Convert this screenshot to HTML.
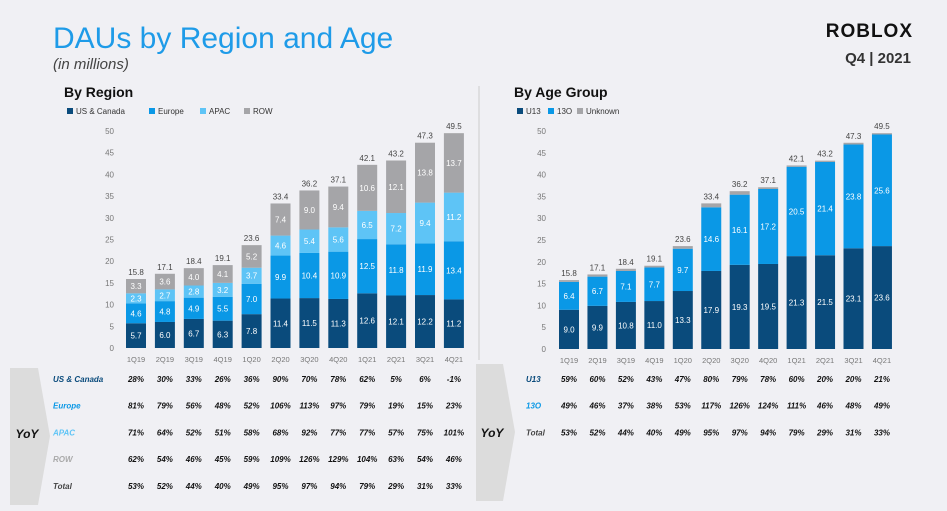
<!DOCTYPE html>
<html><head><meta charset="utf-8"><style>
body{margin:0;background:#f0f0f4;font-family:"Liberation Sans",sans-serif}
svg{display:block}
</style></head><body>
<svg id="s" width="947" height="511" viewBox="0 0 947 511" xmlns="http://www.w3.org/2000/svg">
<rect width="947" height="511" fill="#f0f0f4"/>
<text x="53" y="48" font-size="30" fill="#1e9be8">DAUs by Region and Age</text>
<text x="53" y="69" font-size="15" font-style="italic" fill="#444">(in millions)</text>
<text x="913" y="37" font-size="19" font-weight="bold" fill="#111" text-anchor="end" letter-spacing="1">ROBLOX</text>
<text x="911" y="63" font-size="15" font-weight="bold" fill="#333" text-anchor="end">Q4 | 2021</text>
<line x1="479" y1="86" x2="479" y2="360" stroke="#ccc"/>
<text x="64" y="97" font-size="14" font-weight="bold" fill="#111">By Region</text>
<text x="514" y="97" font-size="14" font-weight="bold" fill="#111">By Age Group</text>
<polygon points="10,368 38,368 50,436 38,505 10,505" fill="#dcdcdc"/>
<polygon points="476,364 503,364 515,432 503,501 476,501" fill="#dcdcdc"/>
<text x="27" y="438" font-size="12" font-weight="bold" font-style="italic" text-anchor="middle" fill="#111">YoY</text>
<text x="492" y="437" font-size="12" font-weight="bold" font-style="italic" text-anchor="middle" fill="#111">YoY</text>
<g id="g"></g>
</svg>
<script>
const quarters=["1Q19","2Q19","3Q19","4Q19","1Q20","2Q20","3Q20","4Q20","1Q21","2Q21","3Q21","4Q21"];
const usCanada=[5.7,6.0,6.7,6.3,7.8,11.4,11.5,11.3,12.6,12.1,12.2,11.2];
const europe=[4.6,4.8,4.9,5.5,7.0,9.9,10.4,10.9,12.5,11.8,11.9,13.4];
const apac=[2.3,2.7,2.8,3.2,3.7,4.6,5.4,5.6,6.5,7.2,9.4,11.2];
const row=[3.3,3.6,4.0,4.1,5.2,7.4,9.0,9.4,10.6,12.1,13.8,13.7];
const regionTotals=["15.8","17.1","18.4","19.1","23.6","33.4","36.2","37.1","42.1","43.2","47.3","49.5"];
const u13=[9.0,9.9,10.8,11.0,13.3,17.9,19.3,19.5,21.3,21.5,23.1,23.6];
const o13=[6.4,6.7,7.1,7.7,9.7,14.6,16.1,17.2,20.5,21.4,23.8,25.6];
const unknown=[0.4,0.5,0.5,0.4,0.6,0.9,0.8,0.4,0.3,0.3,0.4,0.3];
const ageTotals=["15.8","17.1","18.4","19.1","23.6","33.4","36.2","37.1","42.1","43.2","47.3","49.5"];
const yTicks=[0,5,10,15,20,25,30,35,40,45,50];
const yoyUS=["28%","30%","33%","26%","36%","90%","70%","78%","62%","5%","6%","-1%"];
const yoyEU=["81%","79%","56%","48%","52%","106%","113%","97%","79%","19%","15%","23%"];
const yoyAPAC=["71%","64%","52%","51%","58%","68%","92%","77%","77%","57%","75%","101%"];
const yoyROW=["62%","54%","46%","45%","59%","109%","126%","129%","104%","63%","54%","46%"];
const yoyTotal=["53%","52%","44%","40%","49%","95%","97%","94%","79%","29%","31%","33%"];
const yoyU13=["59%","60%","52%","43%","47%","80%","79%","78%","60%","20%","20%","21%"];
const yoyO13=["49%","46%","37%","38%","53%","117%","126%","124%","111%","46%","48%","49%"];

const NS="http://www.w3.org/2000/svg",G=document.getElementById("g");
function el(t,a,txt){const e=document.createElementNS(NS,t);for(const k in a)e.setAttribute(k,a[k]);if(txt!=null)e.textContent=txt;G.appendChild(e);return e;}
function chart(cfg){
  const y=v=>cfg.y0-v*(cfg.y0-cfg.y50)/50;
  const x=i=>cfg.x0+i*cfg.dx;
  yTicks.forEach(t=>{const e=el("text",{x:cfg.ax,y:y(t)+3,"font-size":8,fill:"#777","text-anchor":"end"},t);
    
    });
  quarters.forEach((q,i)=>{const e=el("text",{x:x(i),y:cfg.y0+14,"font-size":7.5,fill:"#777","text-anchor":"middle"},q);
    
    
    let base=0;
    cfg.series.forEach((s,k)=>{const v=s[i];const r=el("rect",{x:x(i)-cfg.bw/2,y:y(base+v),width:cfg.bw,height:y(base)-y(base+v),fill:cfg.colors[k]});
      
      
      if(cfg.labels[k]){const l=el("text",{x:x(i),y:y(base+v/2)+3,"font-size":8,fill:"#fff","text-anchor":"middle"},v.toFixed(1));
        
        }
      base+=v;});
    const t=el("text",{x:x(i),y:y(base)-4,"font-size":8,fill:"#444","text-anchor":"middle"},cfg.totals[i]);
    
    
  });
  let lx=cfg.lx;
  cfg.names.forEach((n,k)=>{const r=el("rect",{x:lx,y:108,width:6,height:6,fill:cfg.colors[k]});
    
    
    const t=el("text",{x:lx+9,y:114,"font-size":8,fill:"#333"},cfg.legend[k]);
    
    
    lx+=cfg.lw[k];});
  cfg.rows.forEach((r,j)=>{const ry=cfg.ry0+j*cfg.rdy;
    const lab=el("text",{x:cfg.rlx,y:ry,"font-size":8,"font-weight":"bold","font-style":"italic",fill:r.c},r.n);
    
    
    r.v.forEach((v,i)=>{const c=el("text",{x:x(i),y:ry,"font-size":8,"font-weight":"bold","font-style":"italic",fill:"#111","text-anchor":"middle"},v);
      
      });});
}
chart({p:"region",x0:136,dx:28.9,bw:20,y0:348,y50:131,ax:114,series:[usCanada,europe,apac,row],
  colors:["#0a4b7c","#0a98e6","#5ec4f6","#a5a5a8"],names:["us-canada","europe","apac","row"],labels:[1,1,1,1],
  legend:["US & Canada","Europe","APAC","ROW"],lw:[82,51,44,40],lx:67,totals:regionTotals,
  rlx:53,ry0:382,rdy:26.7,rows:[{n:"US & Canada",c:"#0a4b7c",v:yoyUS},{n:"Europe",c:"#0a98e6",v:yoyEU},{n:"APAC",c:"#5ec4f6",v:yoyAPAC},{n:"ROW",c:"#aaa",v:yoyROW},{n:"Total",c:"#444",v:yoyTotal}]});
chart({p:"age",x0:569,dx:28.45,bw:20,y0:349,y50:131,ax:546,series:[u13,o13,unknown],
  colors:["#0a4b7c","#0a98e6","#a5a5a8"],names:["u13","o13","unknown"],labels:[1,1,0],
  legend:["U13","13O","Unknown"],lw:[31,29,50],lx:517,totals:ageTotals,
  rlx:526,ry0:382,rdy:26.7,rows:[{n:"U13",c:"#0a4b7c",v:yoyU13},{n:"13O",c:"#0a98e6",v:yoyO13},{n:"Total",c:"#444",v:yoyTotal}]});
</script>
</body></html>
